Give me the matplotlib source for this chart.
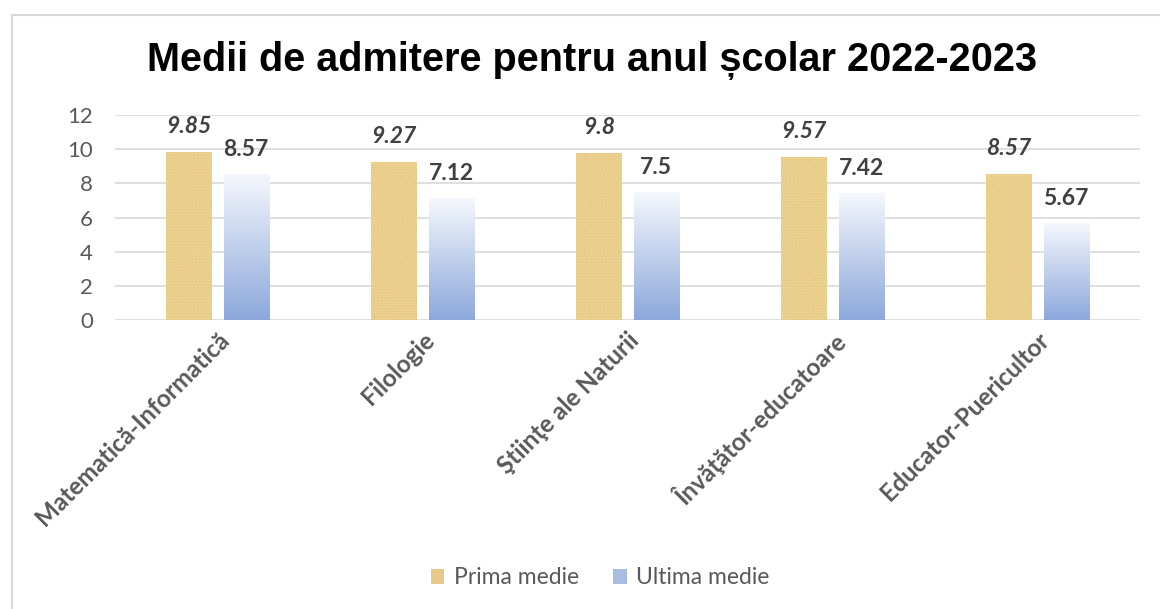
import numpy as np
import matplotlib.pyplot as plt
import matplotlib.transforms as mtransforms
from matplotlib.patches import Rectangle, Patch

# date din grafic
specializari = ['Matematică-Informatică', 'Filologie', 'Ştiinţe ale Naturii',
                'Învăţător-educatoare', 'Educator-Puericultor']
prima_medie = [9.85, 9.27, 9.8, 9.57, 8.57]
ultima_medie = [8.57, 7.12, 7.5, 7.42, 5.67]
yticks = [0, 2, 4, 6, 8, 10, 12]

fig = plt.figure(figsize=(11.6, 6.09), dpi=100)
fig.patch.set_facecolor('white')

# chenarul graficului
fig.patches.append(Rectangle((12 / 1160, -0.05), 1.1, 1 - 15 / 609 + 0.05,
                             transform=fig.transFigure, fill=False,
                             edgecolor='#d9d9d9', linewidth=1.5))

ax = fig.add_axes([115 / 1160, 289 / 609, 1025 / 1160, 205 / 609])
x = np.arange(len(specializari))
w = 0.22
off = 0.14

# textura "papirus" pentru prima medie (fibre orizontale)
yy, xx = np.mgrid[0:160, 0:40]
tex = 0.5 + 0.22 * np.sin(yy * 2.3 + np.sin(xx * 0.7)) + 0.18 * np.sin(xx * 1.9) * np.sin(yy * 0.35)
tex = np.clip(tex, 0, 1)
c1 = np.array([0.95, 0.85, 0.60])
c2 = np.array([0.89, 0.77, 0.50])
img1 = c1[None, None, :] * (1 - tex[..., None]) + c2[None, None, :] * tex[..., None]

# gradient pentru ultima medie
g = np.linspace(0, 1, 100)[:, None]
top = np.array([0.96, 0.97, 0.99])
bot = np.array([0.55, 0.66, 0.86])
img2 = top[None, :] * (1 - g) + bot[None, :] * g
img2 = np.repeat(img2[:, None, :], 2, axis=1)

bars1 = ax.bar(x - off, prima_medie, w, color='none', zorder=3)
bars2 = ax.bar(x + off, ultima_medie, w, color='none', zorder=3)

for b in bars1:
    x0, h = b.get_x(), b.get_height()
    im = ax.imshow(img1, extent=(x0, x0 + w, 0, h), aspect='auto', zorder=3,
                   interpolation='bilinear')
    im.set_clip_path(b)
for b in bars2:
    x0, h = b.get_x(), b.get_height()
    im = ax.imshow(img2, extent=(x0, x0 + w, 0, h), aspect='auto', zorder=3)
    im.set_clip_path(b)

ax.set_xlim(-0.5, len(specializari) - 0.5)
ax.set_ylim(0, 12)

for xi, v in zip(x, prima_medie):
    ax.annotate(str(v), (xi - off, v), xytext=(0, 13.5), textcoords='offset points',
                ha='center', va='baseline', fontsize=16.5, fontweight='bold',
                style='italic', color='#404040', family='Lato')
for xi, v in zip(x, ultima_medie):
    ax.annotate(str(v), (xi + off, v), xytext=(0, 13), textcoords='offset points',
                ha='center', va='baseline', fontsize=16.5, fontweight='bold',
                color='#404040', family='Lato')

ax.set_yticks(yticks)
ax.set_yticklabels([str(t) for t in yticks], fontsize=16, color='#595959', family='Lato')
ax.yaxis.grid(True, color='#d9d9d9', linewidth=1.2, zorder=0)
ax.set_axisbelow(True)
ax.tick_params(axis='y', length=0, pad=16)
ax.set_xticks(x)
ax.set_xticklabels(specializari, rotation=45, ha='right', va='top', rotation_mode='anchor',
                   fontsize=17.5, color='#595959', fontweight='bold', family='Lato')
# mut etichetele putin la stanga
shift = mtransforms.ScaledTranslation(-8 / 100, 0, fig.dpi_scale_trans)
for lbl in ax.get_xticklabels():
    lbl.set_transform(lbl.get_transform() + shift)
ax.tick_params(axis='x', length=0, pad=6)
for s in ax.spines.values():
    s.set_visible(False)

fig.text(592 / 1160, 1 - 60 / 609, 'Medii de admitere pentru anul școlar 2022-2023',
         ha='center', va='center', fontsize=28.5, fontweight='bold',
         family='Liberation Sans', color='black')

handles = [Patch(facecolor='#e8c98a', edgecolor='none'),
           Patch(facecolor='#a9bde3', edgecolor='none')]
leg = fig.legend(handles, ['Prima medie', 'Ultima medie'], loc='center',
                 bbox_to_anchor=(600 / 1160, 1 - 578 / 609), ncol=2, frameon=False,
                 handlelength=0.6, handleheight=0.6, handletextpad=0.4, columnspacing=1.5,
                 prop={'family': 'Lato', 'size': 16.5})
for t in leg.get_texts():
    t.set_color('#595959')

fig.savefig('out.png', dpi=100, facecolor='white')
